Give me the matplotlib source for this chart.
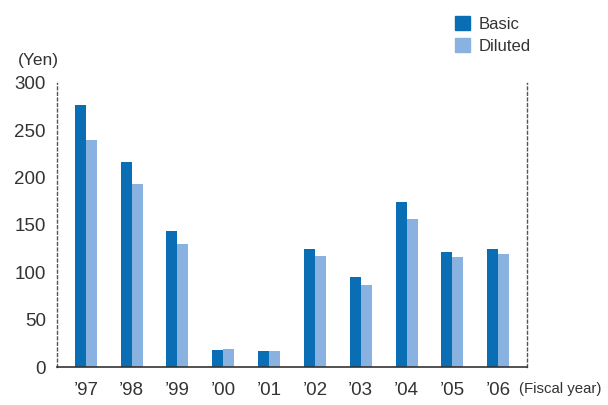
import numpy as np
import matplotlib.pyplot as plt
from matplotlib.patches import Patch

# Données (yen par action)
years = ["\u201997", "\u201998", "\u201999", "\u201900", "\u201901",
         "\u201902", "\u201903", "\u201904", "\u201905", "\u201906"]
basic = [277, 217, 144, 18, 17, 125, 95, 174, 121, 125]
diluted = [240, 193, 130, 19, 17, 117, 87, 156, 116, 119]

COL_BASIC = "#0a6eb4"
COL_DILUTED = "#8ab2e0"
TXT = "#333333"

plt.rcParams['font.family'] = ['Liberation Sans', 'DejaVu Sans']

fig = plt.figure(figsize=(6.08, 4.05), dpi=100)
ax = fig.add_axes([57 / 608, 38 / 405, 470 / 608, 284 / 405])

x = np.arange(len(years))
w = 0.24
ax.bar(x - w / 2, basic, width=w, color=COL_BASIC)
ax.bar(x + w / 2, diluted, width=w, color=COL_DILUTED)

ax.set_xlim(-0.63, 9.63)
ax.set_ylim(0, 300)
ax.set_yticks(range(0, 301, 50))
ax.set_xticks(x)
ax.set_xticklabels(years)
ax.tick_params(axis='both', length=0, labelsize=13.5, colors=TXT)
ax.tick_params(axis='x', pad=11)
ax.tick_params(axis='y', pad=8)

ax.spines['top'].set_visible(False)
for side in ['left', 'right']:
    ax.spines[side].set_linestyle((0, (2, 2)))
    ax.spines[side].set_color("#555555")
    ax.spines[side].set_linewidth(1)
ax.spines['bottom'].set_color("#333333")
ax.spines['bottom'].set_linewidth(1.2)

fig.text(18 / 608, 1 - 60 / 405, "(Yen)", fontsize=12.5, color=TXT, va='center')
fig.text(519 / 608, 1 - 389 / 405, "(Fiscal year)", fontsize=10.8, color=TXT, va='center')

handles = [Patch(color=COL_BASIC, label="Basic"), Patch(color=COL_DILUTED, label="Diluted")]
leg = fig.legend(handles=handles, loc='upper left', bbox_to_anchor=(440 / 608, 1 - 1 / 405),
                 frameon=False, handlelength=0.9, handleheight=0.9, handletextpad=0.5,
                 labelspacing=0.4, fontsize=12)
for t in leg.get_texts():
    t.set_color(TXT)

fig.savefig("out.png", dpi=100)
